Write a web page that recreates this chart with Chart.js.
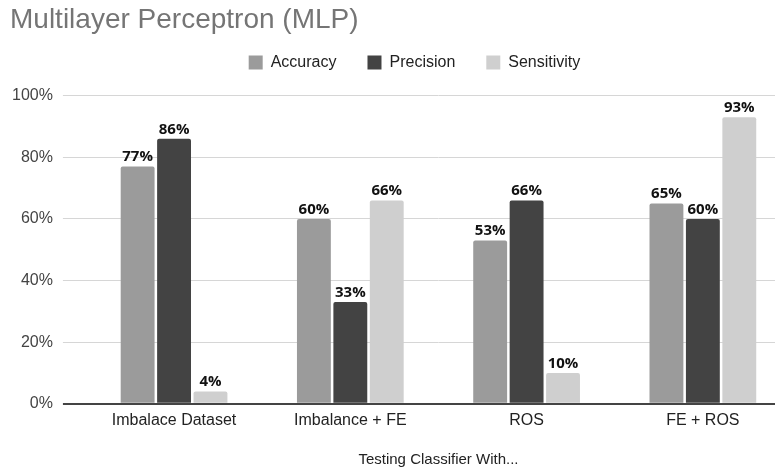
<!doctype html>
<html>
<head>
	<title>Multilayer Perceptron (MLP)</title>
	<script src="https://cdn.jsdelivr.net/npm/chart.js@4/dist/chart.umd.min.js"></script>
	<style>
		html, body { margin: 0; background: #fff; overflow: hidden; }
		#holder { width: 800px; height: 470px; }
	</style>
</head>
<body>
	<div id="holder"><canvas id="chart-area"></canvas></div>
	<script>
		var categories = ['Imbalace Dataset', 'Imbalance + FE', 'ROS', 'FE + ROS'];
		var accuracy = [77, 60, 53, 65];
		var precision = [86, 33, 66, 60];
		var sensitivity = [4, 66, 10, 93];
		var yTicks = [0, 20, 40, 60, 80, 100];

		// draws the bold % value above every bar
		var valueLabels = {
			id: 'valueLabels',
			afterDatasetsDraw: function(chart) {
				var ctx = chart.ctx;
				ctx.save();
				ctx.font = 'bold 15px "Open Sans"';
				ctx.fillStyle = '#111';
				ctx.textAlign = 'center';
				ctx.textBaseline = 'bottom';
				chart.data.datasets.forEach(function(ds, i) {
					chart.getDatasetMeta(i).data.forEach(function(bar, j) {
						ctx.fillText(ds.data[j] + '%', bar.x, bar.y - 2);
					});
				});
				ctx.restore();
			}
		};

		// legend sits a bit right and has extra room below it, title is indented
		var blockTweaks = {
			id: 'blockTweaks',
			beforeLayout: function(chart) {
				var lg = chart.legend;
				if (lg && !lg._fitPatched) {
					var fit = lg.fit;
					lg.fit = function() {
						fit.call(this);
						this.height += 15;
					};
					lg._fitPatched = true;
				}
			},
			afterLayout: function(chart) {
				chart.legend.left += 18;
				chart.legend.right += 18;
				chart.legend.adjustHitBoxes();
				chart.titleBlock.left += 8;
				chart.titleBlock.right += 8;
			}
		};

		var config = {
			type: 'bar',
			data: {
				labels: categories,
				datasets: [
					{ label: 'Accuracy', data: accuracy, backgroundColor: '#9b9b9b' },
					{ label: 'Precision', data: precision, backgroundColor: '#434343' },
					{ label: 'Sensitivity', data: sensitivity, backgroundColor: '#cfcfcf' }
				]
			},
			options: {
				responsive: true,
				maintainAspectRatio: false,
				animation: false,
				layout: { padding: { left: 2, right: 9, top: 0, bottom: 1 } },
				datasets: {
					bar: { categoryPercentage: 0.62, barPercentage: 0.93, borderRadius: 2 }
				},
				plugins: {
					title: {
						display: true,
						text: 'Multilayer Perceptron (MLP)',
						align: 'start',
						color: '#757575',
						font: { family: 'Liberation Sans', size: 28, weight: 'normal' },
						padding: { top: 3, bottom: -13 }
					},
					legend: {
						position: 'top',
						labels: {
							color: '#222',
							font: { family: 'Liberation Sans', size: 16 },
							boxWidth: 14,
							boxHeight: 14,
							padding: 31
						}
					},
					tooltip: { enabled: false }
				},
				scales: {
					x: {
						grid: { display: false, drawTicks: false },
						border: { color: '#444', width: 2 },
						ticks: { color: '#222', padding: 7, font: { family: 'Liberation Sans', size: 16 } },
						title: {
							display: true,
							text: 'Testing Classifier With...',
							color: '#222',
							font: { family: 'Liberation Sans', size: 15 },
							padding: { top: 14, bottom: 0 }
						}
					},
					y: {
						min: 0,
						max: 100,
						afterBuildTicks: function(axis) {
							axis.ticks = yTicks.map(function(v) { return { value: v }; });
						},
						grid: {
							color: function(c) { return c.tick && c.tick.value === 0 ? '#444' : '#d6d6d6'; },
							lineWidth: function(c) { return c.tick && c.tick.value === 0 ? 2 : 1; },
							drawTicks: true,
							tickLength: 23
						},
						border: { display: false },
						ticks: {
							color: '#444',
							padding: 10,
							font: { family: 'Liberation Sans', size: 16 },
							callback: function(v) { return v + '%'; }
						}
					}
				}
			},
			plugins: [valueLabels, blockTweaks]
		};

		window.onload = function() {
			var ctx = document.getElementById('chart-area').getContext('2d');
			window.myBar = new Chart(ctx, config);
		};
	</script>
</body>
</html>
